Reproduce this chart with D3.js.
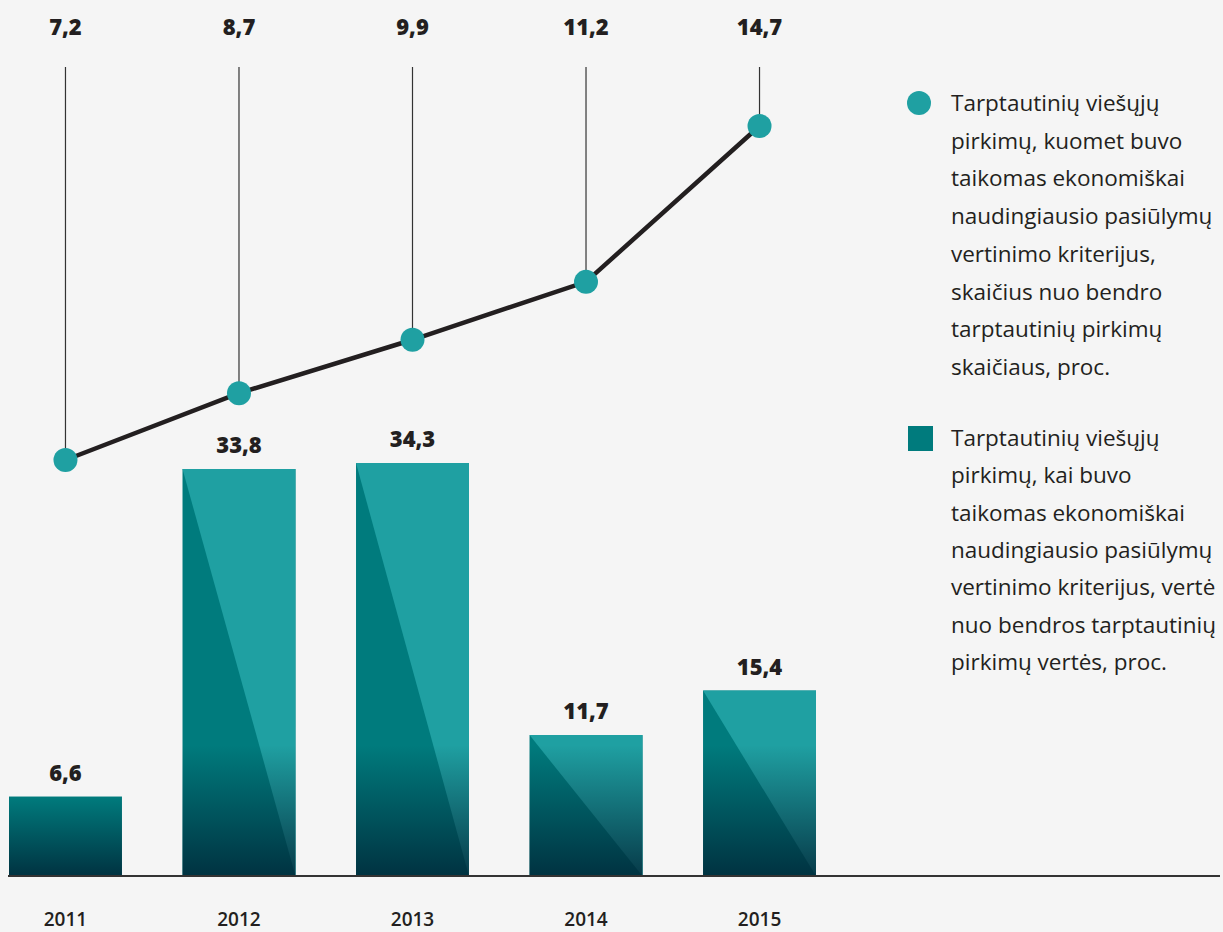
<!DOCTYPE html>
<html><head><meta charset="utf-8">
<script src="https://cdn.jsdelivr.net/npm/d3@7"></script>
<style>
html,body{margin:0;padding:0;background:#f5f5f5;}
svg{display:block;}
</style></head>
<body>
<script>
const years = ["2011","2012","2013","2014","2015"];
const barValues = [6.6, 33.8, 34.3, 11.7, 15.4];
const lineValues = [7.2, 8.7, 9.9, 11.2, 14.7];
const barLabels = ["6,6","33,8","34,3","11,7","15,4"];
const lineLabels = ["7,2","8,7","9,9","11,2","14,7"];
const legendLine = ["Tarptautinių viešųjų","pirkimų, kuomet buvo","taikomas ekonomiškai","naudingiausio pasiūlymų","vertinimo kriterijus,","skaičius nuo bendro","tarptautinių pirkimų","skaičiaus, proc."];
const legendBar = ["Tarptautinių viešųjų","pirkimų, kai buvo","taikomas ekonomiškai","naudingiausio pasiūlymų","vertinimo kriterijus, vertė","nuo bendros tarptautinių","pirkimų vertės, proc."];

const W = 1223, H = 932;
const svg = d3.select("body").append("svg").attr("width", W).attr("height", H);
svg.append("rect").attr("width", W).attr("height", H).attr("fill", "#f5f5f5");

const baseY = 876;
const x = d3.scaleBand().domain(years).range([9, 816]).paddingInner(0.349).paddingOuter(0);
const yBar = d3.scaleLinear().domain([0, 34.3]).range([baseY, 463]);
const yLine = d3.scaleLinear().domain([7.2, 14.7]).range([460, 126]);

const defs = svg.append("defs");
const labelFont = "'Open Sans'";
const bars = svg.append("g");
years.forEach((yr, i) => {
  const x0 = x(yr), bw = x.bandwidth(), y0 = yBar(barValues[i]);
  const gid = "shade" + i;
  const g = defs.append("linearGradient").attr("id", gid).attr("gradientUnits","userSpaceOnUse")
    .attr("x1",0).attr("x2",0).attr("y1",Math.max(y0, 745)).attr("y2",baseY);
  g.append("stop").attr("offset",0).attr("stop-color","#001e30").attr("stop-opacity",0);
  g.append("stop").attr("offset",1).attr("stop-color","#001e30").attr("stop-opacity",0.78);
  const bg = bars.append("g");
  bg.append("rect").attr("x", x0).attr("y", y0).attr("width", bw).attr("height", baseY - y0).attr("fill", "#007b7d");
  if (i > 0) {
    bg.append("path").attr("d", `M${x0},${y0}L${x0+bw},${y0}L${x0+bw},${baseY}Z`).attr("fill", "#1fa0a2");
  }
  bg.append("rect").attr("x", x0).attr("y", y0).attr("width", bw).attr("height", baseY - y0).attr("fill", `url(#${gid})`);
  bars.append("text").attr("x", x0 + bw/2).attr("y", y0 - 16).attr("text-anchor","middle")
    .attr("font-family",labelFont).attr("font-weight",800).attr("font-size",22).attr("fill","#231f20")
    .text(barLabels[i]);
});

// axis
svg.append("line").attr("x1",8).attr("x2",1220).attr("y1",baseY).attr("y2",baseY)
  .attr("stroke","#333").attr("stroke-width",2);
const xAxis = d3.axisBottom(x).tickSize(0).tickPadding(0);
const ax = svg.append("g").attr("transform",`translate(0,${baseY})`).call(xAxis);
ax.select(".domain").remove();
ax.selectAll("text").attr("y", 50).attr("dy", 0).attr("font-family",labelFont).attr("font-weight",600)
  .attr("font-size",19).attr("fill","#231f20");

// line series
const cx = yr => x(yr) + x.bandwidth()/2;
const lg = svg.append("g");
years.forEach((yr, i) => {
  lg.append("line").attr("x1", cx(yr)).attr("x2", cx(yr)).attr("y1", 67).attr("y2", yLine(lineValues[i]))
    .attr("stroke","#333").attr("stroke-width",1.2);
  lg.append("text").attr("x", cx(yr)).attr("y", 35).attr("text-anchor","middle")
    .attr("font-family",labelFont).attr("font-weight",800).attr("font-size",22).attr("fill","#231f20")
    .text(lineLabels[i]);
});
const line = d3.line().x((d,i) => cx(years[i])).y(d => yLine(d));
lg.append("path").datum(lineValues).attr("d", line).attr("fill","none").attr("stroke","#231f20").attr("stroke-width",4.5);
lg.selectAll("circle").data(lineValues).join("circle")
  .attr("cx",(d,i)=>cx(years[i])).attr("cy",d=>yLine(d)).attr("r",12).attr("fill","#1fa0a2");

// legend
const leg = svg.append("g");
leg.append("circle").attr("cx",919).attr("cy",103).attr("r",12).attr("fill","#1fa0a2");
leg.append("text").attr("font-family",labelFont).attr("font-size",22.5).attr("fill","#231f20")
  .selectAll("tspan").data(legendLine).join("tspan").attr("x",951).attr("y",(d,i)=>111 + i*37.7).text(d=>d);
leg.append("rect").attr("x",908).attr("y",426).attr("width",25).attr("height",25).attr("fill","#007b7d");
leg.append("text").attr("font-family",labelFont).attr("font-size",22.5).attr("fill","#231f20")
  .selectAll("tspan").data(legendBar).join("tspan").attr("x",951).attr("y",(d,i)=>446 + i*37.3).text(d=>d);
</script>
</body></html>
